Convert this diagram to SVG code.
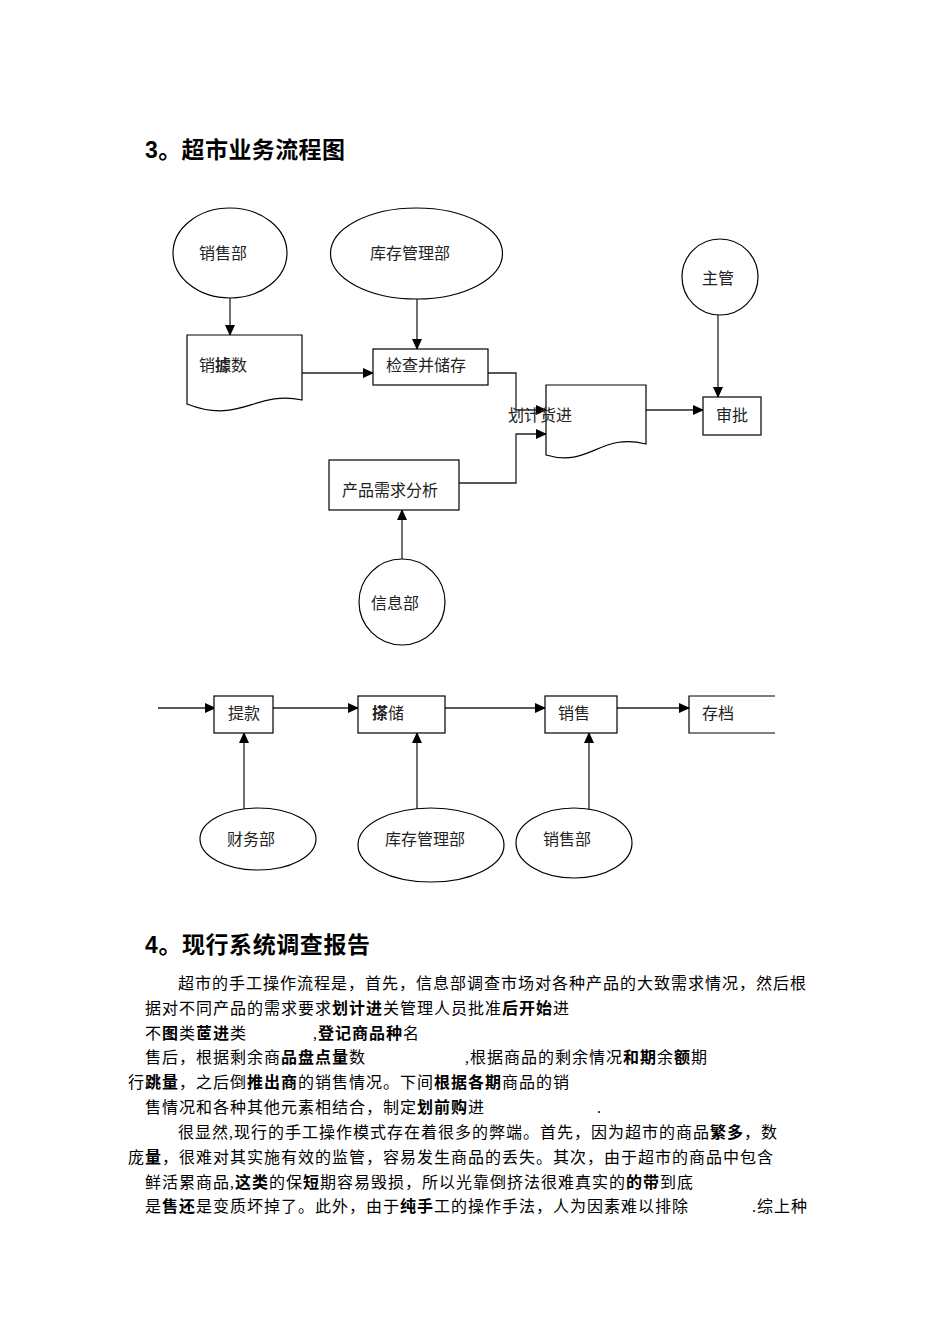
<svg xmlns="http://www.w3.org/2000/svg" width="950" height="1344" viewBox="0 0 950 1344">
<style>
.bg{fill:#fff}
.n{fill:#fff;stroke:#000;stroke-width:1.2}
.nf{fill:none;stroke:#000;stroke-width:1.2}
.c{fill:none;stroke:#222;stroke-width:1.3}
.l{font-family:"Liberation Sans","Noto Sans CJK SC",sans-serif;font-size:16px;fill:#222}
.h{font-family:"Liberation Sans","Noto Sans CJK SC",sans-serif;font-size:23px;font-weight:bold;fill:#000}
.t{font-family:"Liberation Serif","Noto Sans CJK SC",serif;font-size:16px;letter-spacing:1px;fill:#000}
.b{font-weight:bold}
</style>
<defs>
<marker id="ah" markerUnits="userSpaceOnUse" markerWidth="11" markerHeight="10" refX="10" refY="5" orient="auto">
<path d="M0,0 L11,5 L0,10 z" fill="#000"/>
</marker>
</defs>
<rect class="bg" x="0" y="0" width="950" height="1344"/>

<text class="h" x="145" y="158" textLength="200" lengthAdjust="spacing">3。超市业务流程图</text>

<g id="connectors">
<path class="c" d="M230,298 V335" marker-end="url(#ah)"/>
<path class="c" d="M417,299 V349" marker-end="url(#ah)"/>
<path class="c" d="M302,373 H373" marker-end="url(#ah)"/>
<path class="c" d="M488,373 H516 V410 H546" marker-end="url(#ah)"/>
<path class="c" d="M459,483 H516 V434 H546" marker-end="url(#ah)"/>
<path class="c" d="M402,559 V510" marker-end="url(#ah)"/>
<path class="c" d="M646,410 H703" marker-end="url(#ah)"/>
<path class="c" d="M718,315 V397" marker-end="url(#ah)"/>
<path class="c" d="M158,708 H215" marker-end="url(#ah)"/>
<path class="c" d="M273,708 H358" marker-end="url(#ah)"/>
<path class="c" d="M445,708 H545" marker-end="url(#ah)"/>
<path class="c" d="M617,708 H689" marker-end="url(#ah)"/>
<path class="c" d="M244,809 V733" marker-end="url(#ah)"/>
<path class="c" d="M417,809 V733" marker-end="url(#ah)"/>
<path class="c" d="M589,809 V733" marker-end="url(#ah)"/>
</g>

<g id="n-sales1"><ellipse class="n" cx="230" cy="253" rx="57" ry="45"/><text class="l" x="199" y="259">销售部</text></g>
<g id="n-stock1"><ellipse class="n" cx="416.5" cy="253.5" rx="86" ry="45.5"/><text class="l" x="370" y="259">库存管理部</text></g>
<g id="n-boss"><circle class="n" cx="720" cy="277" r="38"/><text class="l" x="702" y="284">主管</text></g>
<g id="n-salesdata"><path class="n" d="M187,335 H302 V400 C255,390 240,425 187,404 Z"/><text class="l" x="199" y="371">销<tspan class="b">據</tspan>数</text></g>
<g id="n-check"><rect class="n" x="373" y="349" width="115" height="36"/><text class="l" x="386" y="371">检查并储存</text></g>
<g id="n-plan"><path class="n" d="M546,385 H646 V444 C600,432 590,468 546,455 Z"/><text class="l" x="508" y="421">划计货进</text></g>
<g id="n-approve"><rect class="n" x="703" y="397" width="58" height="38"/><text class="l" x="716" y="421">审批</text></g>
<g id="n-analysis"><rect class="n" x="329" y="460" width="130" height="50"/><text class="l" x="342" y="496">产品需求分析</text></g>
<g id="n-info"><circle class="n" cx="402" cy="602" r="43"/><text class="l" x="371" y="609">信息部</text></g>

<g id="n-withdraw"><rect class="n" x="214" y="696" width="59" height="37"/><text class="l" x="228" y="719">提款</text></g>
<g id="n-store"><rect class="n" x="358" y="696" width="87" height="37"/><text class="l" x="372" y="719"><tspan class="b">搽</tspan>储</text></g>
<g id="n-sell"><rect class="n" x="545" y="696" width="72" height="37"/><text class="l" x="558" y="719">销售</text></g>
<g id="n-archive"><path class="nf" d="M775,696 H689 V733 H775"/><text class="l" x="702" y="719">存档</text></g>
<g id="n-finance"><ellipse class="n" cx="258" cy="839" rx="58" ry="31"/><text class="l" x="227" y="845">财务部</text></g>
<g id="n-stock2"><ellipse class="n" cx="431" cy="845" rx="73" ry="37"/><text class="l" x="385" y="845">库存管理部</text></g>
<g id="n-sales2"><ellipse class="n" cx="574" cy="843" rx="58" ry="35"/><text class="l" x="543" y="845">销售部</text></g>

<text class="h" x="145" y="953" textLength="225" lengthAdjust="spacing">4。现行系统调查报告</text>

<g id="body">
<text class="t" x="178" y="989">超市的手工操作流程是，首先，信息部调查市场对各种产品的大致需求情况，然后根</text>
<text class="t" x="145" y="1014">据对不同产品的需求要求<tspan class="b">划计进</tspan>关管理人员批准<tspan class="b">后开始</tspan>进</text>
<text class="t" x="145" y="1039">不<tspan class="b">图</tspan>类<tspan class="b">茝进</tspan>类</text>
<text class="t" x="313" y="1039">,<tspan class="b">登记商品种</tspan>名</text>
<text class="t" x="145" y="1063">售后，根据剩余商<tspan class="b">品盘点量</tspan>数</text>
<text class="t" x="465" y="1063">,根据商品的剩余情况<tspan class="b">和期</tspan>余<tspan class="b">额</tspan>期</text>
<text class="t" x="128" y="1088">行<tspan class="b">跳量</tspan>，之后倒<tspan class="b">推出商</tspan>的销售情况。下间<tspan class="b">根据各期</tspan>商品的销</text>
<text class="t" x="145" y="1113">售情况和各种其他元素相结合，制定<tspan class="b">划前购</tspan>进</text>
<text class="t" x="597" y="1113">.</text>
<text class="t" x="178" y="1138">很显然,现行的手工操作模式存在着很多的弊端。首先，因为超市的商品<tspan class="b">繁多</tspan>，数</text>
<text class="t" x="128" y="1163">庞<tspan class="b">量</tspan>，很难对其实施有效的监管，容易发生商品的丢失。其次，由于超市的商品中包含</text>
<text class="t" x="145" y="1188">鲜活累商品,<tspan class="b">这类</tspan>的保<tspan class="b">短</tspan>期容易毁损，所以光靠倒挤法很难真实的<tspan class="b">的带</tspan>到底</text>
<text class="t" x="145" y="1212">是<tspan class="b">售还</tspan>是变质坏掉了。此外，由于<tspan class="b">纯手</tspan>工的操作手法，人为因素难以排除</text>
<text class="t" x="752" y="1212">.综上种</text>
</g>
</svg>
